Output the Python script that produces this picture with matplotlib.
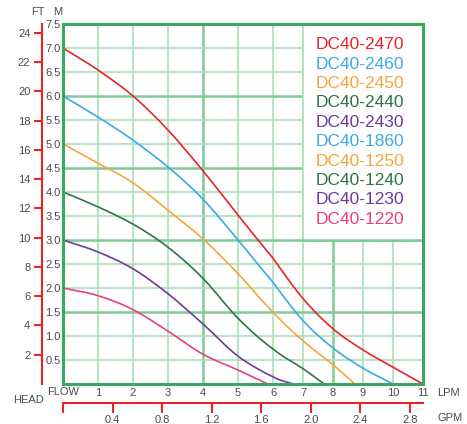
import numpy as np
import matplotlib
matplotlib.use("Agg")
import matplotlib.pyplot as plt
from matplotlib.patches import Rectangle, PathPatch
from matplotlib.path import Path

plt.rcParams['font.family'] = ['Liberation Sans', 'DejaVu Sans']

# pump curves: flow (LPM) vs head (M)
lpm_2470 = [0, 1, 2, 3, 4, 5, 6, 7, 8, 9, 10, 11]
m_2470 = [7.0, 6.54, 6.0, 5.29, 4.44, 3.52, 2.62, 1.78, 1.15, 0.71, 0.35, 0.0]
lpm_2460 = [0, 1, 2, 3, 4, 5, 6, 7, 8, 9, 10]
m_2460 = [6.0, 5.56, 5.08, 4.52, 3.85, 3.0, 2.12, 1.32, 0.75, 0.33, 0.0]
lpm_2450 = [0, 1, 2, 3, 4, 5, 6, 7, 8, 8.73]
m_2450 = [5.0, 4.6, 4.19, 3.62, 3.02, 2.3, 1.5, 0.9, 0.4, 0.0]
lpm_2440 = [0, 1, 2, 3, 4, 5, 6, 7, 7.7]
m_2440 = [4.0, 3.69, 3.33, 2.85, 2.2, 1.37, 0.73, 0.32, 0.0]
lpm_2430 = [0, 1, 2, 3, 4, 5, 6, 6.67]
m_2430 = [3.0, 2.75, 2.4, 1.88, 1.25, 0.58, 0.15, 0.0]
lpm_1220 = [0, 1, 2, 3, 4, 5, 5.85]
m_1220 = [2.0, 1.84, 1.55, 1.1, 0.62, 0.29, 0.0]

legend_names = ['DC40-2470', 'DC40-2460', 'DC40-2450', 'DC40-2440', 'DC40-2430',
                'DC40-1860', 'DC40-1250', 'DC40-1240', 'DC40-1230', 'DC40-1220']

lpm_ticks = list(range(1, 12))
m_ticks = [0.5, 1.0, 1.5, 2.0, 2.5, 3.0, 3.5, 4.0, 4.5, 5.0, 5.5, 6.0, 6.5, 7.0, 7.5]
ft_ticks = list(range(2, 25, 2))
gpm_ticks = [0, 0.4, 0.8, 1.2, 1.6, 2.0, 2.4, 2.8]

RED = '#e8232b'
BLUE = '#3aa9e6'
ORANGE = '#f6a53a'
DGREEN = '#2f7444'
PURPLE = '#6e3b98'
PINK = '#e8407f'
legend_colors = [RED, BLUE, ORANGE, DGREEN, PURPLE, BLUE, ORANGE, DGREEN, PURPLE, PINK]
GRAY = '#4a4a4a'
SPINE = '#3aa95f'
THIN = '#acdfb8'
THICK = '#7fcb95'


# the printed grid is wider for 0-6 LPM than for 6-11 LPM
def fwd(x):
    x = np.asarray(x, float)
    return np.where(x < 6, x * 35.0, 210.0 + (x - 6) * 30.0)


def inv(p):
    p = np.asarray(p, float)
    return np.where(p < 210, p / 35.0, 6 + (p - 210) / 30.0)


def smooth_path(xs, ys):
    # catmull-rom through the read points, as cubic bezier segments
    pts = np.column_stack([xs, ys]).astype(float)
    ext = np.vstack([2 * pts[0] - pts[1], pts, 2 * pts[-1] - pts[-2]])
    verts = [pts[0]]
    codes = [Path.MOVETO]
    for i in range(1, len(ext) - 2):
        p0, p1, p2, p3 = ext[i - 1], ext[i], ext[i + 1], ext[i + 2]
        verts += [p1 + (p2 - p0) / 6, p2 - (p3 - p1) / 6, p2]
        codes += [Path.CURVE4] * 3
    return Path(verts, codes)


W, H = 467, 424
fig = plt.figure(figsize=(W / 100, H / 100), dpi=100)
ax = fig.add_axes([63 / W, 40 / H, 360 / W, 360 / H])
ax.set_xscale('function', functions=(fwd, inv))
ax.set_xlim(0, 11)
ax.set_ylim(0, 7.5)

# grid
for v in range(1, 11):
    thick = v % 4 == 0
    ax.axvline(v, color=THICK if thick else THIN, lw=1.8 if thick else 1.2, zorder=1)
for h in np.arange(0.5, 7.5, 0.5):
    thick = abs(h / 1.5 - round(h / 1.5)) < 1e-6
    ax.axhline(h, color=THICK if thick else THIN, lw=1.8 if thick else 1.2, zorder=1)

# white legend box over the grid
ax.add_patch(Rectangle((7, 3.0), 4, 4.5, facecolor='white', edgecolor='none', zorder=1.5))
ax.plot([7, 7], [3.0, 7.5], color=THIN, lw=1.2, zorder=1.6)
ax.plot([7, 11], [3.0, 3.0], color=THICK, lw=1.8, zorder=1.6)

curves = [(lpm_2470, m_2470, RED), (lpm_2460, m_2460, BLUE), (lpm_2450, m_2450, ORANGE),
          (lpm_2440, m_2440, DGREEN), (lpm_2430, m_2430, PURPLE), (lpm_1220, m_1220, PINK)]
for xs, ys, c in curves:
    ax.add_patch(PathPatch(smooth_path(xs, ys), fill=False, edgecolor=c, lw=1.2,
                           zorder=3, capstyle='round'))

for i, (name, c) in enumerate(zip(legend_names, legend_colors)):
    ax.text(0.703, 0.942 - i * 0.0538, name, color=c, fontsize=12.5,
            transform=ax.transAxes, va='center', ha='left', zorder=4)

for s in ax.spines.values():
    s.set_color(SPINE)
    s.set_linewidth(2.2)
    s.set_zorder(5)

ax.set_xticks(lpm_ticks)
ax.set_xticklabels([str(t) for t in lpm_ticks])
ax.set_yticks(m_ticks)
ax.set_yticklabels(['%.1f' % t for t in m_ticks])
ax.tick_params(axis='both', length=0, labelsize=8, labelcolor=GRAY)
ax.tick_params(axis='x', pad=3)
ax.tick_params(axis='y', pad=1.5)
ax.minorticks_off()

# FT axis (red, left)
ax_ft = ax.twinx()
ax_ft.set_ylim(0, 7.5 * 3.28084)
ax_ft.yaxis.set_ticks_position('left')
ax_ft.yaxis.set_label_position('left')
for k in ['top', 'right', 'bottom']:
    ax_ft.spines[k].set_visible(False)
ax_ft.spines['left'].set_position(('outward', 15))
ax_ft.spines['left'].set_color(RED)
ax_ft.spines['left'].set_linewidth(1.5)
ax_ft.set_yticks(ft_ticks)
ax_ft.tick_params(axis='y', length=5.5, width=1.5, color=RED, labelsize=8,
                  labelcolor=GRAY, pad=3)

# GPM axis (red, bottom)
ax_g = ax.twiny()
ax_g.set_xlim(0, 11 / 3.785)
ax_g.xaxis.set_ticks_position('bottom')
for k in ['top', 'right', 'left']:
    ax_g.spines[k].set_visible(False)
ax_g.spines['bottom'].set_position(('outward', 13.7))
ax_g.spines['bottom'].set_color(RED)
ax_g.spines['bottom'].set_linewidth(1.5)
ax_g.set_xticks(gpm_ticks)
ax_g.set_xticklabels([''] + ['%.1f' % t for t in gpm_ticks[1:]])
ax_g.tick_params(axis='x', length=7, width=1.5, color=RED, labelsize=8,
                 labelcolor=GRAY, pad=1.5)

fig.text(38 / W, 1 - 12 / H, 'FT', fontsize=8, color=GRAY, ha='center', va='center')
fig.text(58 / W, 1 - 12 / H, 'M', fontsize=8, color=GRAY, ha='center', va='center')
fig.text(47 / W, 1 - 392 / H, 'FLOW', fontsize=8, color=GRAY, ha='left', va='center')
fig.text(29 / W, 1 - 400 / H, 'HEAD', fontsize=8, color=GRAY, ha='center', va='center')
fig.text(437 / W, 1 - 393 / H, 'LPM', fontsize=8, color=GRAY, ha='left', va='center')
fig.text(437 / W, 1 - 418 / H, 'GPM', fontsize=8, color=GRAY, ha='left', va='center')

fig.savefig('out.png', dpi=100)
